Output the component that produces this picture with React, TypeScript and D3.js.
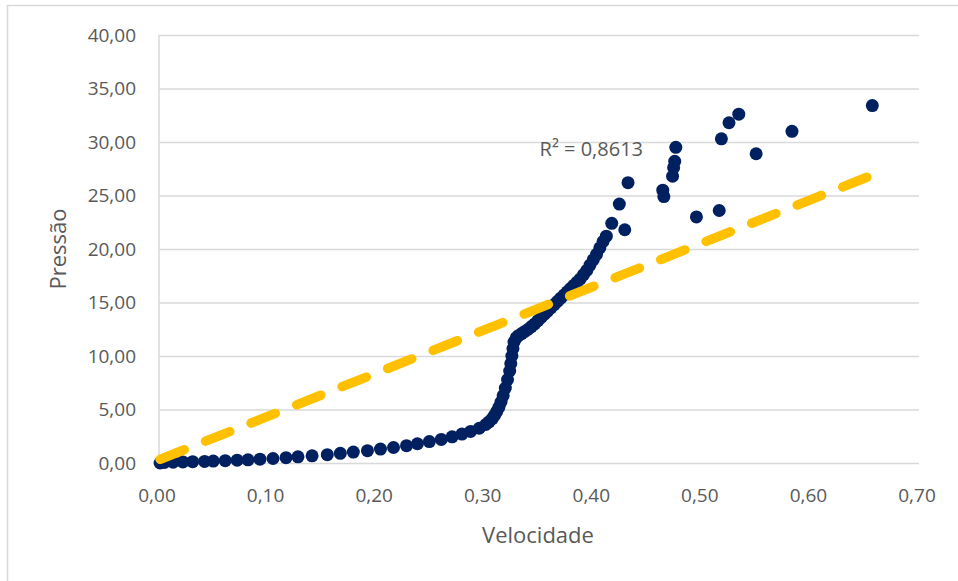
import React, { useRef, useEffect } from 'react';
import * as d3 from 'd3';

// Velocidade (x) and Pressão (y)
const velocidade: number[] = [
  0.001, 0.005, 0.013, 0.022, 0.031, 0.042, 0.05, 0.061, 0.072, 0.082,
  0.093, 0.105, 0.117, 0.128, 0.141, 0.155, 0.167, 0.179, 0.192, 0.204,
  0.216, 0.228, 0.238, 0.249, 0.26, 0.27, 0.279, 0.287, 0.295, 0.301,
  0.304, 0.307, 0.309, 0.311, 0.313, 0.315, 0.317, 0.319, 0.321, 0.323,
  0.324, 0.325, 0.326, 0.327, 0.329, 0.331, 0.334, 0.337, 0.34, 0.343,
  0.346, 0.349, 0.352, 0.355, 0.358, 0.361, 0.364, 0.367, 0.37, 0.373,
  0.376, 0.379, 0.382, 0.385, 0.388, 0.391, 0.394, 0.397, 0.4, 0.403,
  0.406, 0.409, 0.412, 0.417, 0.424, 0.429, 0.432, 0.464, 0.465, 0.473,
  0.474, 0.475, 0.476, 0.495, 0.516, 0.518, 0.525, 0.534, 0.55, 0.583,
  0.657,
];

const pressao: number[] = [
  0.0, 0.05, 0.08, 0.1, 0.12, 0.15, 0.18, 0.22, 0.26, 0.3,
  0.36, 0.42, 0.5, 0.58, 0.67, 0.78, 0.9, 1.02, 1.15, 1.3,
  1.45, 1.62, 1.8, 2.0, 2.2, 2.45, 2.7, 2.95, 3.25, 3.6,
  3.85, 4.15, 4.45, 4.8, 5.2, 5.7, 6.3, 7.0, 7.8, 8.6,
  9.3, 10.0, 10.7, 11.3, 11.7, 11.9, 12.1, 12.3, 12.5, 12.75,
  13.0, 13.3, 13.6, 13.9, 14.2, 14.5, 14.8, 15.1, 15.4, 15.7,
  16.0, 16.3, 16.6, 16.9, 17.2, 17.6, 18.0, 18.5, 19.0, 19.5,
  20.1, 20.7, 21.2, 22.4, 24.2, 21.8, 26.2, 25.5, 24.9, 26.8,
  27.6, 28.2, 29.5, 23.0, 23.6, 30.3, 31.8, 32.6, 28.9, 31.0,
  33.4,
];

const xTicks: number[] = [0, 0.1, 0.2, 0.3, 0.4, 0.5, 0.6, 0.7];
const yTicks: number[] = [0, 5, 10, 15, 20, 25, 30, 35, 40];

// linear trendline as shown in the picture
const trendSlope = 40.5;
const trendIntercept = 0.3;
const r2Label = 'R² = 0,8613';

const fmt = (v: number) => v.toFixed(2).replace('.', ',');

const ScatterChart: React.FC = () => {
  const svgRef = useRef<SVGSVGElement>(null);
  const width = 958;
  const height = 581;

  useEffect(() => {
    if (!svgRef.current) return;
    const svg = d3.select(svgRef.current);
    svg.selectAll('*').remove();

    const margin = { top: 35, right: 39, bottom: 118, left: 159 };
    const innerWidth = width - margin.left - margin.right;
    const innerHeight = height - margin.top - margin.bottom;
    const font = "'Open Sans', 'Noto Sans', sans-serif";
    const textColor = '#595959';
    const gridColor = '#d9d9d9';

    // chart frame
    svg.append('rect')
      .attr('x', 7.5)
      .attr('y', 5.5)
      .attr('width', 980)
      .attr('height', 620)
      .attr('fill', 'white')
      .attr('stroke', gridColor)
      .attr('stroke-width', 1.5);

    const xScale = d3.scaleLinear().domain([0, 0.7]).range([0, innerWidth]);
    const yScale = d3.scaleLinear().domain([0, 40]).range([innerHeight, 0]);

    const g = svg.append('g')
      .attr('transform', `translate(${margin.left},${margin.top})`);

    // horizontal grid lines
    g.append('g')
      .call(d3.axisLeft(yScale).tickValues(yTicks).tickSize(-innerWidth).tickFormat(() => ''))
      .call(s => s.select('.domain').remove())
      .selectAll('line')
      .attr('stroke', gridColor)
      .attr('stroke-width', 1.5);

    // vertical axis line
    g.append('line')
      .attr('x1', 0).attr('x2', 0)
      .attr('y1', 0).attr('y2', innerHeight)
      .attr('stroke', gridColor)
      .attr('stroke-width', 1.5);

    // y tick labels
    g.append('g')
      .selectAll('text')
      .data(yTicks)
      .enter().append('text')
      .attr('x', -23)
      .attr('y', d => yScale(d))
      .attr('dy', '0.35em')
      .attr('text-anchor', 'end')
      .style('font-family', font)
      .style('font-size', '19px')
      .attr('fill', textColor)
      .text(d => fmt(d));

    // x tick labels
    g.append('g')
      .selectAll('text')
      .data(xTicks)
      .enter().append('text')
      .attr('x', d => xScale(d) - 2)
      .attr('y', innerHeight + 32)
      .attr('dy', '0.35em')
      .attr('text-anchor', 'middle')
      .style('font-family', font)
      .style('font-size', '19px')
      .attr('fill', textColor)
      .text(d => fmt(d));

    const points = velocidade.map((v, i) => ({ x: v, y: pressao[i] }));

    // data points
    g.append('g')
      .selectAll('circle')
      .data(points)
      .enter().append('circle')
      .attr('cx', d => xScale(d.x))
      .attr('cy', d => yScale(d.y))
      .attr('r', 6.5)
      .attr('fill', '#002060');

    // trendline
    const [xMin, xMax] = d3.extent(velocidade) as [number, number];
    const trend = [xMin, xMax].map(x => ({ x, y: trendSlope * x + trendIntercept }));
    g.append('path')
      .datum(trend)
      .attr('d', d3.line<{ x: number; y: number }>().x(d => xScale(d.x)).y(d => yScale(d.y)))
      .attr('fill', 'none')
      .attr('stroke', '#FFC000')
      .attr('stroke-width', 9.5)
      .attr('stroke-linecap', 'round')
      .attr('stroke-dasharray', '26,23');

    // R² label
    g.append('text')
      .attr('x', xScale(0.4) - 2)
      .attr('y', yScale(29.5) + 2)
      .attr('dy', '0.35em')
      .attr('text-anchor', 'middle')
      .style('font-family', font)
      .style('font-size', '20px')
      .attr('fill', textColor)
      .text(r2Label);

    // axis titles
    g.append('text')
      .attr('x', innerWidth / 2 - 1)
      .attr('y', innerHeight + 72)
      .attr('dy', '0.35em')
      .attr('text-anchor', 'middle')
      .style('font-family', font)
      .style('font-size', '22px')
      .attr('fill', textColor)
      .text('Velocidade');

    g.append('text')
      .attr('transform', 'rotate(-90)')
      .attr('x', -innerHeight / 2)
      .attr('y', -margin.left + 58)
      .attr('dy', '0.35em')
      .attr('text-anchor', 'middle')
      .style('font-family', font)
      .style('font-size', '22px')
      .attr('fill', textColor)
      .text('Pressão');
  }, []);

  return (
    <svg
      ref={svgRef}
      width={width}
      height={height}
      style={{ position: 'absolute', left: 0, top: 0, background: 'white' }}
    ></svg>
  );
};

export default function App() {
  return <ScatterChart />;
}
